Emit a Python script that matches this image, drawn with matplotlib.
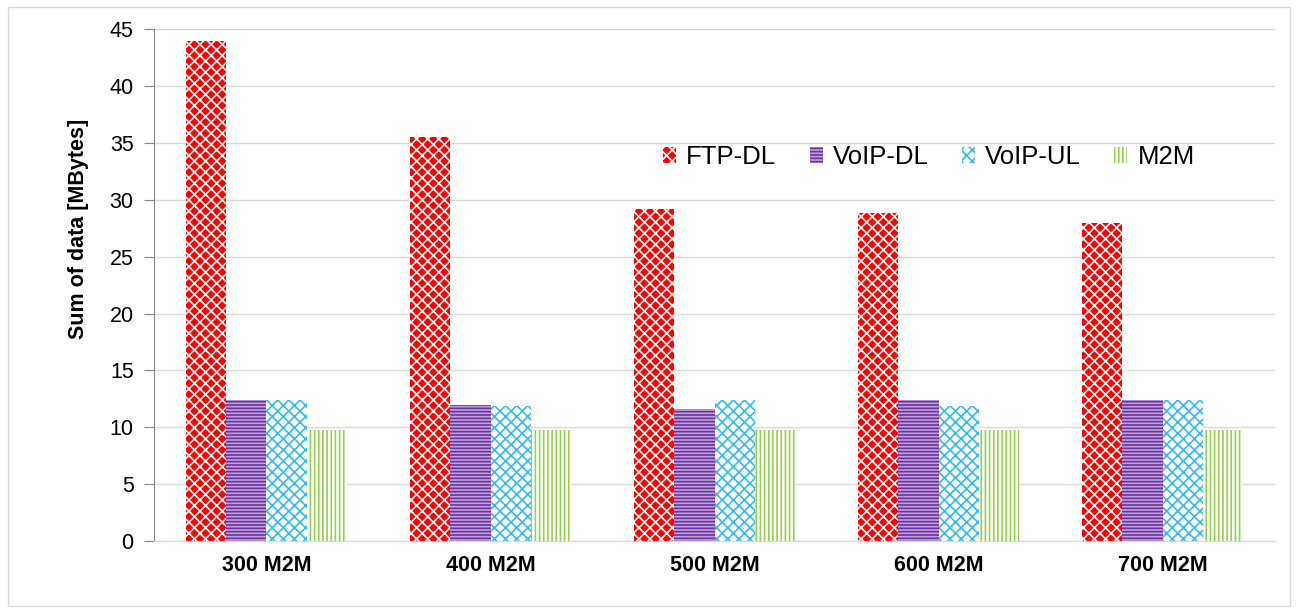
import numpy as np
import matplotlib.pyplot as plt
from matplotlib.patches import Rectangle

plt.rcParams['font.family'] = ['Liberation Sans', 'DejaVu Sans']
plt.rcParams['hatch.linewidth'] = 1.2

# data
categories = ['300 M2M', '400 M2M', '500 M2M', '600 M2M', '700 M2M']
series = ['FTP-DL', 'VoIP-DL', 'VoIP-UL', 'M2M']
ftp_dl = [44.0, 35.5, 29.2, 28.8, 28.0]
voip_dl = [12.4, 11.95, 11.6, 12.4, 12.4]
voip_ul = [12.4, 11.9, 12.4, 11.9, 12.4]
m2m = [9.8, 9.8, 9.8, 9.8, 9.8]

values = [ftp_dl, voip_dl, voip_ul, m2m]
# facecolor, hatch colour, hatch
styles = [
    ('#FF0000', 'white', 'xxx'),
    ('#B9A3D8', '#7030A0', '-----'),
    ('white', '#33BBEE', 'xxx'),
    ('white', '#92D050', '||||'),
]

fig = plt.figure(figsize=(12.98, 6.08), dpi=100)
ax = fig.add_axes([0.119, 0.110, 0.863, 0.842])

x = np.arange(len(categories))
w = 0.18
for i, (vals, (fc, hc, h)) in enumerate(zip(values, styles)):
    ax.bar(x + (i - 1.5) * w, vals, w, facecolor=fc, edgecolor=hc,
           hatch=h, linewidth=0, label=series[i], zorder=3)

ax.set_xlim(-0.5, len(categories) - 0.5)
ax.set_ylim(0, 45)
ax.set_yticks(range(0, 46, 5))
ax.set_xticks(x)
ax.set_xticklabels(categories, fontsize=15.5, fontweight='bold')
ax.tick_params(axis='x', length=0, pad=10)
ax.tick_params(axis='y', labelsize=15.5, length=7, color='#868686', pad=8)
ax.set_ylabel('Sum of data [MBytes]', fontsize=15.5, fontweight='bold')
ax.yaxis.set_label_coords(-0.058, 0.61)

ax.grid(axis='y', color='#D9D9D9', linewidth=1, zorder=0)
for s in ['top', 'right']:
    ax.spines[s].set_visible(False)
ax.spines['left'].set_color('#868686')
ax.spines['bottom'].set_color('#D9D9D9')

ax.legend(loc='center left', bbox_to_anchor=(663 / 1298, 1 - 157 / 608),
          bbox_transform=fig.transFigure, ncol=4, frameon=False,
          fontsize=18.5, handlelength=0.5, handleheight=0.6, columnspacing=1.3,
          handletextpad=0.4, borderpad=0, borderaxespad=0)

fig.patches.append(Rectangle((0.006, 0.004), 0.988, 0.985, transform=fig.transFigure,
                             fill=False, edgecolor='#D9D9D9', linewidth=1))

fig.savefig('out.png', dpi=100)
